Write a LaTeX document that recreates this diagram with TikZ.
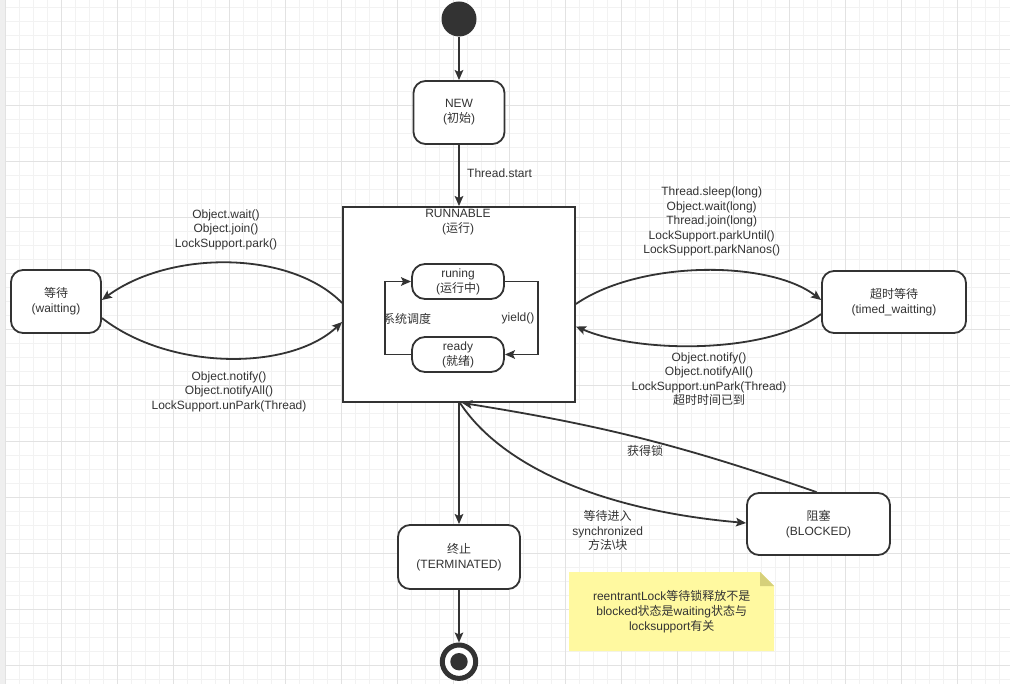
\documentclass[tikz,border=0pt]{standalone}
\usepackage{fontspec}
\setmainfont{Liberation Sans}
\newfontfamily\cjk{Noto Sans CJK SC}
\newcommand{\zh}[1]{{\cjk #1}}
\usetikzlibrary{arrows.meta}
\definecolor{ink}{HTML}{333333}
\definecolor{gridminor}{HTML}{F2F2F2}
\definecolor{gridmajor}{HTML}{E2E2E2}
\definecolor{gridstrip}{HTML}{EFEFEF}
\definecolor{notefill}{HTML}{FFF9A0}
\definecolor{notefold}{HTML}{D6D07A}
\begin{document}
\begin{tikzpicture}[x=1pt,y=-1pt,
  every node/.style={text=ink, font=\fontsize{12}{14.5}\selectfont, inner sep=0pt},
  state/.style={draw=ink, line width=1.8pt, rounded corners=12pt, align=center, fill=white, font=\fontsize{12}{15}\selectfont},
  edge/.style={draw=ink, line width=1.8pt, -{Stealth[length=10pt,width=8.5pt,inset=2pt]}},
  lbl/.style={align=center}
]
\useasboundingbox (0,0) rectangle (1010,684);
% background grid
\fill[white] (0,0) rectangle (1010,684);
\fill[gridstrip] (0,0) rectangle (4.8,684);
\foreach \i in {0,...,72} \draw[gridminor, line width=1pt] ({5.3+14*\i},0) -- ({5.3+14*\i},684);
\foreach \j in {0,...,48} \draw[gridminor, line width=1pt] (4.8,{7.3+14*\j}) -- (1010,{7.3+14*\j});
\foreach \i in {0,...,18} \draw[gridmajor, line width=1pt] ({5.3+56*\i},0) -- ({5.3+56*\i},684);
\foreach \j in {0,...,12} \draw[gridmajor, line width=1pt] (4.8,{-6.7+56*\j}) -- (1010,{-6.7+56*\j});

% nodes
\node[circle, fill=ink, minimum size=35pt] (start) at (459,19) {};
\node[state, minimum width=91pt, minimum height=63pt] (new) at (459,112.5) {NEW\\(\zh{初始})};
\node[draw=ink, line width=1.8pt, fill=white, minimum width=232pt, minimum height=195pt] (run) at (459,304.5) {};
\node[lbl, font=\fontsize{12}{15}\selectfont] (runlbl) at (458,222.5) {RUNNABLE\\(\zh{运行})};
\node[state, rounded corners=13pt, minimum width=92pt, minimum height=35pt] (ing) at (458,281.5) {runing\\(\zh{运行中})};
\node[state, rounded corners=13pt, minimum width=92pt, minimum height=35pt] (rdy) at (458,354.5) {ready\\(\zh{就绪})};
\node[state, minimum width=90pt, minimum height=63pt] (wait) at (56,301.5) {\zh{等待}\\(waitting)};
\node[state, minimum width=144pt, minimum height=62pt] (timed) at (894,302) {\zh{超时等待}\\(timed\_waitting)};
\node[state, minimum width=122pt, minimum height=64pt] (term) at (459,557) {\zh{终止}\\(TERMINATED)};
\node[state, minimum width=143pt, minimum height=62pt] (blk) at (818.5,524) {\zh{阻塞}\\(BLOCKED)};
\node[circle, draw=ink, line width=5pt, minimum size=33.4pt, fill=white] (end) at (459,661.7) {};
\fill[ink] (end.center) circle (8.7pt);

% inner loops
\draw[edge] (rdy.west) -- ++(-26,0) |- (ing.west);
\draw[edge] (ing.east) -- ++(33,0) |- (rdy.east);
\node (sched) at (407,319) {\zh{系统调度}};
\node (yld) at (518,318) {yield()};

% main edges
\draw[edge] (start.south) -- (new.north);
\draw[edge] (new.south) -- (run.north);
\node[anchor=west] (tstart) at (467,173) {Thread.start};

\draw[edge] ([yshift=1.5pt]run.west) .. controls (290,250) and (170,250) .. ([yshift=1.5pt]wait.east);
\draw[edge] ([yshift=-16.5pt]wait.east) .. controls (170,371) and (290,371) .. ([yshift=-17.5pt]run.west);
\node[lbl] (lwait) at (226,229.5) {Object.wait()\\Object.join()\\LockSupport.park()};
\node[lbl] (lnotify) at (229,391.5) {Object.notify()\\Object.notifyAll()\\LockSupport.unPark(Thread)};

\draw[edge] ([yshift=0.5pt]run.east) .. controls (640,260) and (769,260) .. ([yshift=2pt]timed.west);
\draw[edge] ([yshift=-12pt]timed.west) .. controls (769,354) and (640,354) .. ([yshift=-22pt]run.east);
\node[lbl] (lsleep) at (711.7,221.5) {Thread.sleep(long)\\Object.wait(long)\\Thread.join(long)\\LockSupport.parkUntil()\\LockSupport.parkNanos()};
\node[lbl] (lnotify2) at (709,379) {Object.notify()\\Object.notifyAll()\\LockSupport.unPark(Thread)\\\zh{超时时间已到}};

\draw[edge] (run.south) -- (term.north);
\draw[edge] ([xshift=1pt]run.south) .. controls (500,464) and (597,510) .. ([yshift=1pt]blk.west);
\draw[edge] ([xshift=-2pt]blk.north) to[bend right=5] ([xshift=3pt]run.south);
\node (lock) at (645,451) {\zh{获得锁}};
\node[lbl] (lsync) at (607.7,530.8) {\zh{等待进入}\\synchronized\\\zh{方法}\textbackslash\zh{块}};
\draw[edge] (term.south) -- (end.north);

% note
\fill[notefill] (569,572) -- (760,572) -- (774,586) -- (774,651) -- (569,651) -- cycle;
\fill[notefold] (760,572) -- (774,586) -- (760,586) -- cycle;
\node[lbl, font=\fontsize{12}{15}\selectfont] (note) at (671.7,611.8) {reentrantLock\zh{等待锁释放不是}\\blocked\zh{状态是}waiting\zh{状态与}\\locksupport\zh{有关}};
\end{tikzpicture}
\end{document}
